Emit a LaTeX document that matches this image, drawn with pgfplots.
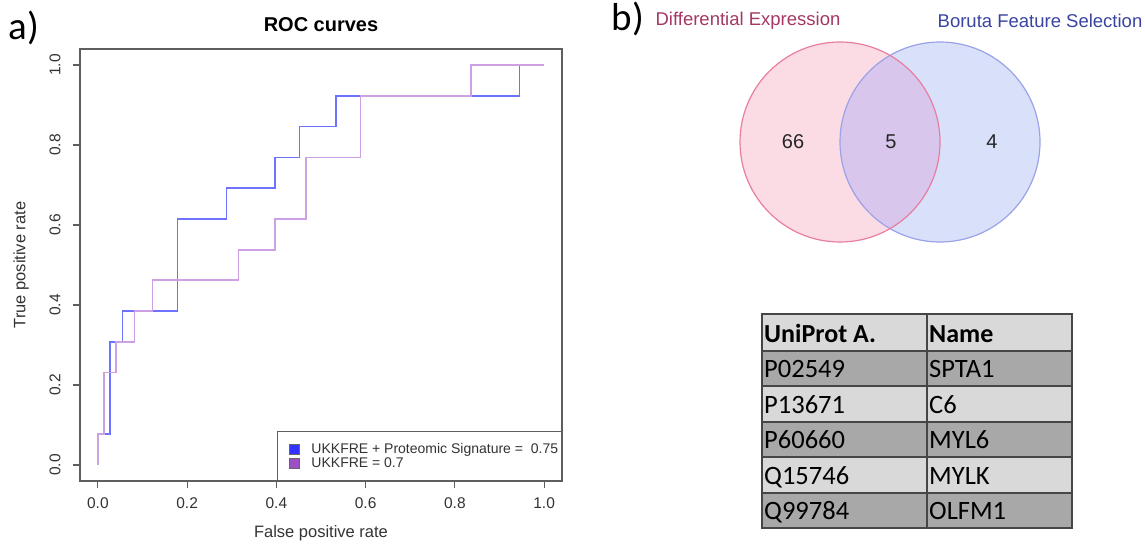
\documentclass[border=0pt]{standalone}
\usepackage{fontspec}
\setmainfont{Liberation Sans}
\newfontfamily\calib{Carlito}
\usepackage{pgfplots}
\pgfplotsset{compat=1.18}
\definecolor{axgray}{HTML}{5E5E5E}
\definecolor{rocblue}{RGB}{110,115,255}
\definecolor{rocpurp}{RGB}{205,160,228}
\definecolor{legblue}{RGB}{50,50,255}
\definecolor{legpurp}{RGB}{155,80,195}
\definecolor{pinkfill}{RGB}{251,220,229}
\definecolor{pinkline}{RGB}{232,125,160}
\definecolor{bluefill}{RGB}{216,224,250}
\definecolor{blueline}{RGB}{155,162,232}
\definecolor{interfill}{RGB}{216,198,236}
\definecolor{detxt}{RGB}{165,55,100}
\definecolor{bftxt}{RGB}{58,68,160}
\definecolor{hdrgray}{RGB}{217,217,217}
\definecolor{darkrow}{RGB}{168,168,168}
\definecolor{lightrow}{RGB}{217,217,217}
\definecolor{tblline}{RGB}{70,70,70}
\begin{document}
\begin{tikzpicture}
\useasboundingbox (0pt,0pt) rectangle (1145pt,-545pt);
\node[font=\calib\fontsize{39}{39}\selectfont, anchor=center] at (24pt,-28pt) {a)};
\begin{axis}[
  at={(80pt,-481pt)}, anchor=south west,
  scale only axis, width=482pt, height=432pt,
  xmin=-0.04, xmax=1.04, ymin=-0.04, ymax=1.04,
  xtick={0,0.2,0.4,0.6,0.8,1}, ytick={0,0.2,0.4,0.6,0.8,1},
  xticklabels={0.0,0.2,0.4,0.6,0.8,1.0},
  yticklabels={0.0,0.2,0.4,0.6,0.8,1.0},
  tick align=outside, major tick length=7pt,
  xtick pos=bottom, ytick pos=left,
  axis line style={axgray, line width=1.3pt},
  every tick/.style={axgray, line width=1.1pt},
  ticklabel style={font=\fontsize{15.5}{15.5}\selectfont, text=black!80},
  yticklabel style={rotate=90, anchor=south},
  xticklabel shift=6pt, yticklabel shift=9pt,
  title={\textbf{ROC curves}},
  title style={font=\fontsize{20}{20}\selectfont, at={(axis description cs:0.5,1.0417)}, anchor=center},
  xlabel={False positive rate}, ylabel={True positive rate},
  xlabel style={font=\fontsize{16.5}{16.5}\selectfont, text=black!80, at={(axis description cs:0.5,-0.12)}, anchor=center},
  ylabel style={font=\fontsize{16.5}{16.5}\selectfont, text=black!80, at={(axis description cs:-0.122,0.5)}, anchor=center, rotate=0},
  legend style={at={(1,0)}, anchor=south east, draw=axgray, line width=1.1pt, fill=white,
    font=\fontsize{14}{15}\selectfont, inner xsep=1.3pt, inner ysep=10.5pt, row sep=1pt,
    nodes={inner ysep=1pt, text=black!80}},
  legend cell align=left,
]
\addplot[rocblue, line width=1.5pt, forget plot] coordinates {
(0,0) (0,0.077) (0.027,0.077) (0.027,0.308) (0.055,0.308) (0.055,0.385)
(0.178,0.385) (0.178,0.615) (0.288,0.615) (0.288,0.692) (0.397,0.692)
(0.397,0.769) (0.452,0.769) (0.452,0.846) (0.534,0.846) (0.534,0.923)
(0.945,0.923) (0.945,1) (1,1)};
\addplot[rocpurp, line width=1.5pt, forget plot] coordinates {
(0,0) (0,0.077) (0.014,0.077) (0.014,0.231) (0.041,0.231) (0.041,0.308)
(0.082,0.308) (0.082,0.385) (0.123,0.385) (0.123,0.462) (0.315,0.462)
(0.315,0.538) (0.397,0.538) (0.397,0.615) (0.466,0.615) (0.466,0.769)
(0.589,0.769) (0.589,0.923) (0.836,0.923) (0.836,1) (1,1)};
\addlegendimage{legend image code/.code={\path[draw=none,fill=none] (-11pt,-5pt) rectangle (20pt,5pt);\filldraw[fill=legblue, draw=black!60, line width=0.5pt] (0pt,-5pt) rectangle (10pt,5pt);}}
\addlegendentry{UKKFRE + Proteomic Signature =\ \ 0.75}
\addlegendimage{legend image code/.code={\path[draw=none,fill=none] (-11pt,-5pt) rectangle (20pt,5pt);\filldraw[fill=legpurp, draw=black!60, line width=0.5pt] (0pt,-5pt) rectangle (10pt,5pt);}}
\addlegendentry{UKKFRE = 0.7}
\end{axis}

\begin{axis}[
  at={(600pt,-545pt)}, anchor=south west,
  scale only axis, width=545pt, height=545pt,
  xmin=600, xmax=1145, ymin=0, ymax=545, y dir=reverse,
  hide axis, clip=false,
]
\fill[pinkfill] (axis cs:840,142) circle[radius=100];
\fill[bluefill] (axis cs:940,142) circle[radius=100];
\begin{scope}
\clip (axis cs:840,142) circle[radius=100];
\fill[interfill] (axis cs:940,142) circle[radius=100];
\end{scope}
\draw[blueline, line width=1.2pt] (axis cs:940,142) circle[radius=100];
\draw[pinkline, line width=1.2pt] (axis cs:840,142) circle[radius=100];
\addplot[only marks, mark=none, nodes near coords, point meta=explicit symbolic,
  every node near coord/.style={anchor=center, font=\fontsize{20}{20}\selectfont, text=black!85}]
  coordinates {(793,142)[66] (891,142)[5] (992,142)[4]};
\node[font=\calib\fontsize{39}{39}\selectfont] at (axis cs:628,19) {b)};
\node[font=\fontsize{18.5}{18.5}\selectfont, text=detxt] at (axis cs:748,21) {Differential Expression};
\node[font=\fontsize{18.5}{18.5}\selectfont, text=bftxt] at (axis cs:1040,21) {Boruta Feature Selection};
% table
\fill[hdrgray] (axis cs:762,314) rectangle (axis cs:1072,351);
\fill[darkrow] (axis cs:762,351) rectangle (axis cs:1072,386);
\fill[lightrow] (axis cs:762,386) rectangle (axis cs:1072,422);
\fill[darkrow] (axis cs:762,422) rectangle (axis cs:1072,457);
\fill[lightrow] (axis cs:762,457) rectangle (axis cs:1072,493);
\fill[darkrow] (axis cs:762,493) rectangle (axis cs:1072,528);
\draw[tblline, line width=1.3pt] (axis cs:762,314) rectangle (axis cs:1072,528);
\draw[tblline, line width=1.3pt] (axis cs:927,314) -- (axis cs:927,528);
\draw[tblline, line width=1.3pt] (axis cs:762,351) -- (axis cs:1072,351);
\draw[tblline, line width=1.3pt] (axis cs:762,386) -- (axis cs:1072,386);
\draw[tblline, line width=1.3pt] (axis cs:762,422) -- (axis cs:1072,422);
\draw[tblline, line width=1.3pt] (axis cs:762,457) -- (axis cs:1072,457);
\draw[tblline, line width=1.3pt] (axis cs:762,493) -- (axis cs:1072,493);
\node[anchor=base west, font=\calib\bfseries\fontsize{26}{26}\selectfont, inner sep=0pt] at (axis cs:764,342) {UniProt A.};
\node[anchor=base west, font=\calib\bfseries\fontsize{26}{26}\selectfont, inner sep=0pt] at (axis cs:929,342) {Name};
\node[anchor=base west, font=\calib\fontsize{26.5}{26.5}\selectfont, inner sep=0pt] at (axis cs:764,377) {P02549};
\node[anchor=base west, font=\calib\fontsize{26.5}{26.5}\selectfont, inner sep=0pt] at (axis cs:929,377) {SPTA1};
\node[anchor=base west, font=\calib\fontsize{26.5}{26.5}\selectfont, inner sep=0pt] at (axis cs:764,413) {P13671};
\node[anchor=base west, font=\calib\fontsize{26.5}{26.5}\selectfont, inner sep=0pt] at (axis cs:929,413) {C6};
\node[anchor=base west, font=\calib\fontsize{26.5}{26.5}\selectfont, inner sep=0pt] at (axis cs:764,448) {P60660};
\node[anchor=base west, font=\calib\fontsize{26.5}{26.5}\selectfont, inner sep=0pt] at (axis cs:929,448) {MYL6};
\node[anchor=base west, font=\calib\fontsize{26.5}{26.5}\selectfont, inner sep=0pt] at (axis cs:764,484) {Q15746};
\node[anchor=base west, font=\calib\fontsize{26.5}{26.5}\selectfont, inner sep=0pt] at (axis cs:929,484) {MYLK};
\node[anchor=base west, font=\calib\fontsize{26.5}{26.5}\selectfont, inner sep=0pt] at (axis cs:764,519) {Q99784};
\node[anchor=base west, font=\calib\fontsize{26.5}{26.5}\selectfont, inner sep=0pt] at (axis cs:929,519) {OLFM1};
\end{axis}
\end{tikzpicture}
\end{document}
